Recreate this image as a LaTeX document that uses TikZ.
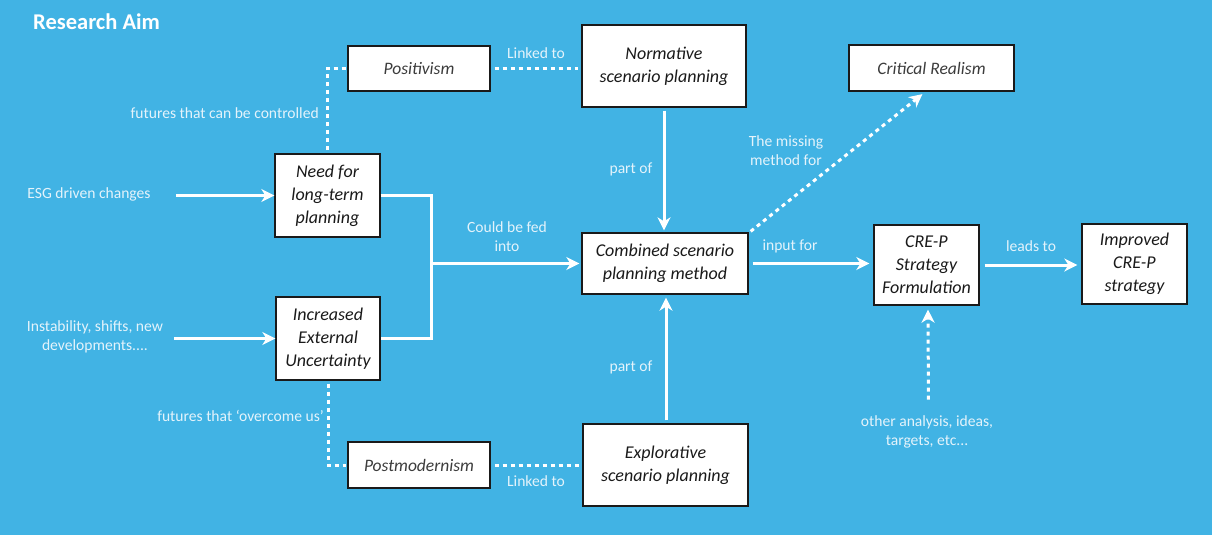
\documentclass[tikz,border=0pt]{standalone}
\usepackage{fontspec}
\setmainfont{Carlito}
\usetikzlibrary{arrows.meta}
\definecolor{bg}{HTML}{41B3E4}
\definecolor{ink}{HTML}{1A1A1A}
\definecolor{softink}{HTML}{3C3C3C}
\definecolor{labelc}{HTML}{E4F3FB}
\begin{document}
\begin{tikzpicture}[x=1pt,y=-1pt,
  box/.style={draw=ink, line width=1.3pt, fill=white, inner sep=0pt, align=center,
    text=ink, font=\itshape\fontsize{18}{23}\selectfont},
  lightbox/.style={box, text=softink, font=\itshape\fontsize{17.5}{20}\selectfont},
  lbl/.style={text=labelc, inner sep=0pt, align=center, font=\fontsize{15.6}{19}\selectfont},
  tip/.style={-{Stealth[length=13pt,width=13pt,inset=4pt]}},
  wire/.style={draw=white, line width=3pt},
  flow/.style={wire, tip},
  link/.style={wire, dash pattern=on 4pt off 4pt},
  dflow/.style={link, tip},
]
% canvas
\fill[bg] (0,0) rectangle (1212,535);
\useasboundingbox (0,0) rectangle (1212,535);

\node[anchor=west, text=white, inner sep=0pt, font=\bfseries\fontsize{22.5}{26}\selectfont] (title) at (33,22) {Research Aim};

% boxes
\node[lightbox, minimum width=142, minimum height=45] (pos) at (419,68.5) {Positivism};
\node[box, minimum width=164, minimum height=82] (norm) at (664,66) {Normative\\scenario planning};
\node[lightbox, minimum width=165, minimum height=46] (crit) at (931.5,68) {Critical Realism};
\node[box, minimum width=105, minimum height=83] (need) at (327.5,195.5) {Need for\\long-term\\planning};
\node[box, minimum width=104, minimum height=83] (unc) at (328,338.5) {Increased\\External\\Uncertainty};
\node[box, minimum width=166, minimum height=61] (comb) at (665,263.5) {Combined scenario\\planning method};
\node[box, minimum width=105, minimum height=80] (cre) at (926.5,265) {CRE-P\\Strategy\\Formulation};
\node[box, minimum width=105, minimum height=80] (imp) at (1134.5,264) {Improved\\CRE-P\\strategy};
\node[lightbox, minimum width=142, minimum height=46] (post) at (419,465) {Postmodernism};
\node[box, minimum width=165, minimum height=82] (expl) at (665.5,465) {Explorative\\scenario planning};

% free labels
\node[lbl] (esg) at (89,194) {ESG driven changes};
\node[lbl] (inst) at (95,337) {Instability, shifts, new\\developments....};
\node[lbl, anchor=east] (ctrl) at (319,113) {futures that can be controlled};
\node[lbl, anchor=east] (over) at (324,416) {futures that `overcome us'};
\node[lbl] (fed) at (507,237) {Could be fed\\into};
\node[lbl] (link1) at (536,53) {Linked to};
\node[lbl] (link2) at (536,481) {Linked to};
\node[lbl] (part1) at (631,169) {part of};
\node[lbl] (part2) at (631,367) {part of};
\node[lbl] (miss) at (786,151) {The missing\\method for};
\node[lbl] (inp) at (790,246) {input for};
\node[lbl] (leads) at (1031,246) {leads to};
\node[lbl] (other) at (927,432) {other analysis, ideas,\\targets, etc...};

% drivers
\coordinate (esgstart) at (176,195.5);
\coordinate (inststart) at (174,338.5);
\draw[flow] (esgstart) -- (need.west);
\draw[flow] (inststart) -- (unc.west);

% merge of the two drivers into the combined method
\coordinate (bx) at (431,0);
\draw[wire, line join=miter] (need.east) -| (bx |- unc.east) -- (unc.east);
\draw[flow, shorten >=2pt] (bx |- comb.west) -- (comb.west);

% parts of the combined method
\draw[flow, shorten <=3pt, shorten >=2pt] (norm.south) -- (norm.south |- comb.north);
\draw[flow, shorten <=3pt, shorten >=3pt] ([xshift=0.5pt]expl.north) -- ([xshift=0.5pt]expl.north |- comb.south);

% philosophical links
\draw[link, shorten <=4pt, shorten >=3pt] (pos.east) -- (norm.west |- pos.east);
\draw[link, shorten <=4pt, shorten >=3pt] (post.east) -- (expl.west |- post.east);
\draw[link, shorten <=3pt, shorten >=1pt] (need.north) |- (pos.west);
\draw[link, shorten <=3pt, shorten >=1pt] (unc.south) |- (post.west);

% outputs
\draw[dflow, shorten >=4pt] ([shift={(2,-1)}]comb.north east) -- ([shift={(-6,0)}]crit.south);
\draw[flow, shorten <=4pt, shorten >=4pt] (comb.east) -- (cre.west |- comb.east);
\draw[flow, shorten <=5pt, shorten >=4pt] (cre.east) -- (imp.west |- cre.east);
\draw[dflow, shorten <=16pt, shorten >=4pt] ([xshift=1.5pt]other.north) -- ([xshift=1.5pt]cre.south);
\end{tikzpicture}
\end{document}
